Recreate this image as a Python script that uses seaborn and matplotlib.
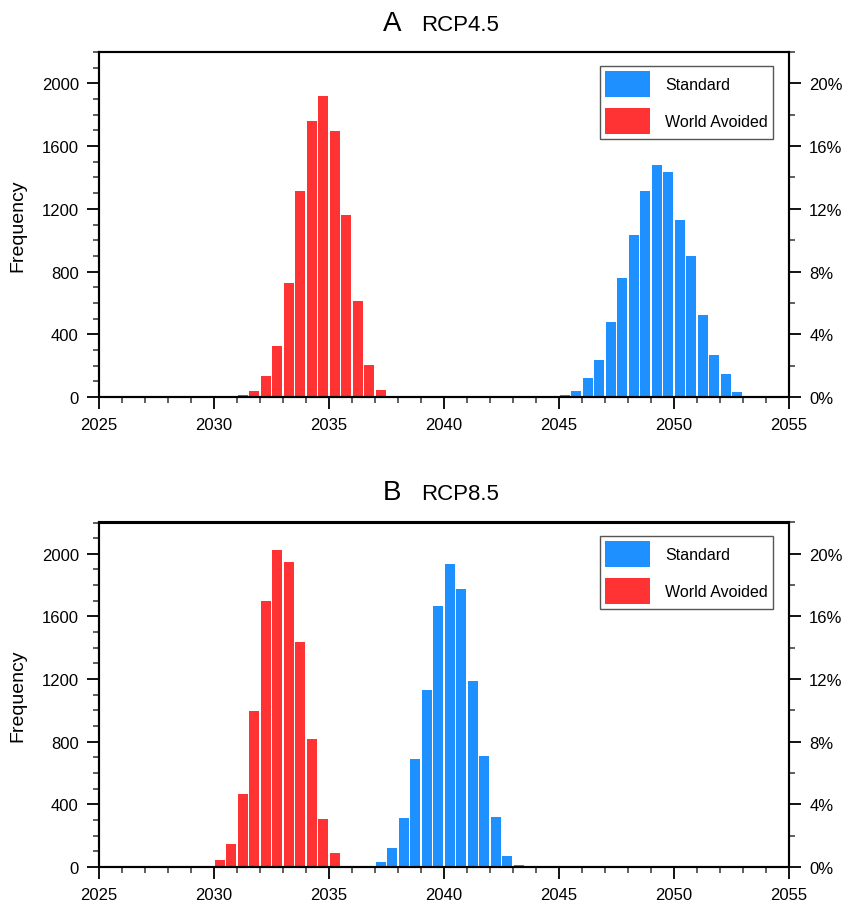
import numpy as np
import pandas as pd
import matplotlib
matplotlib.use("Agg")
import matplotlib.pyplot as plt
import matplotlib.patches as mpatches
from matplotlib.ticker import MultipleLocator, FuncFormatter
import seaborn as sns

# ---------------- data ----------------
bin_width = 0.5
x_range = (2025, 2055)

a_standard_start = 2045.0
a_standard = [15, 40, 119, 239, 477, 756, 1031, 1312, 1478, 1433, 1127, 897, 520, 270, 149, 34, 4]
a_avoided_start = 2031.0
a_avoided = [10, 36, 132, 324, 726, 1312, 1759, 1921, 1695, 1158, 611, 206, 47]

b_standard_start = 2037.0
b_standard = [32, 121, 313, 690, 1131, 1668, 1936, 1776, 1188, 709, 319, 70, 13]
b_avoided_start = 2030.0
b_avoided = [45, 147, 466, 997, 1700, 2026, 1949, 1438, 818, 307, 89]

total_runs = 10000
series_labels = ["Standard", "World Avoided"]
panel_letters = ["A", "B"]
panel_names = ["RCP4.5", "RCP8.5"]

blue = "#1E90FF"
red = "#FF3333"

# ---------------- style ----------------
sns.set_theme(style="ticks")
plt.rcParams["font.family"] = ["Liberation Sans", "DejaVu Sans"]
plt.rcParams["text.color"] = "black"
plt.rcParams["axes.labelcolor"] = "black"
plt.rcParams["xtick.color"] = "black"
plt.rcParams["ytick.color"] = "black"
plt.rcParams["xtick.labelcolor"] = "black"
plt.rcParams["ytick.labelcolor"] = "black"

fig = plt.figure(figsize=(8.44, 9.03), dpi=100)
W, H = 844, 903

def frame(df_start, counts):
    centers = [df_start + bin_width * i + bin_width / 2 for i in range(len(counts))]
    return pd.DataFrame({"year": centers, "count": counts})

panels = [
    dict(top=53, bottom=398, std=(a_standard_start, a_standard), avd=(a_avoided_start, a_avoided),
         title_base=31, leg_top=67),
    dict(top=523.5, bottom=868, std=(b_standard_start, b_standard), avd=(b_avoided_start, b_avoided),
         title_base=500, leg_top=537),
]

left_px, right_px = 99, 789
for k, p in enumerate(panels):
    ax = fig.add_axes([left_px / W, 1 - p["bottom"] / H, (right_px - left_px) / W,
                       (p["bottom"] - p["top"]) / H])
    for (start, counts), col in [(p["avd"], red), (p["std"], blue)]:
        df = frame(start, counts)
        sns.histplot(data=df, x="year", weights="count", binwidth=bin_width,
                     binrange=x_range, color=col,
                     alpha=1, shrink=0.87, linewidth=0, ax=ax)
    ax.set_xlim(*x_range)
    ax.set_ylim(0, 2200)
    ax.set_xlabel("")
    ax.set_ylabel("Frequency", fontsize=14, labelpad=11)
    ax.xaxis.set_major_locator(MultipleLocator(5))
    ax.xaxis.set_minor_locator(MultipleLocator(1))
    ax.yaxis.set_major_locator(MultipleLocator(400))
    ax.yaxis.set_minor_locator(MultipleLocator(100))
    ax.tick_params(axis="both", which="major", direction="out", length=8.5, width=1.3,
                   labelsize=12, color="black", labelcolor="black", pad=6)
    ax.tick_params(axis="both", which="minor", direction="out", length=4.5, width=1.1,
                   color="#333333")
    ax.tick_params(axis="x", which="both", top=False)
    ax.tick_params(axis="y", which="both", right=False)
    for s in ax.spines.values():
        s.set_visible(True)
        s.set_linewidth(1.5)
        s.set_color("black")

    ax2 = ax.twinx()
    ax2.set_ylim(0, 2200 / total_runs * 100)
    ax2.yaxis.set_major_locator(MultipleLocator(4))
    ax2.yaxis.set_minor_locator(MultipleLocator(2))
    ax2.yaxis.set_major_formatter(FuncFormatter(lambda v, _: f"{v:.0f}%"))
    ax2.tick_params(axis="y", which="major", direction="out", length=8.5, width=1.3,
                    labelsize=12, labelcolor="black", pad=6)
    ax2.tick_params(axis="y", which="minor", direction="out", length=4, width=1.1,
                    color="#333333")
    for s in ax2.spines.values():
        s.set_linewidth(1.5)
        s.set_color("black")

    handles = [mpatches.Patch(facecolor=blue, edgecolor="none"),
               mpatches.Patch(facecolor=red, edgecolor="none")]
    leg = ax2.legend(handles, series_labels, loc="upper right",
                     bbox_to_anchor=((773 - left_px) / (right_px - left_px),
                                     (p["bottom"] - p["leg_top"]) / (p["bottom"] - p["top"])),
                     borderaxespad=0, fontsize=11.5, handlelength=2.85, handleheight=2.1,
                     labelspacing=0.75, handletextpad=0.95, borderpad=0.3,
                     fancybox=False, framealpha=1, edgecolor="#555555")
    leg.get_frame().set_linewidth(1.0)
    for t in leg.get_texts():
        t.set_color("black")

    yb = 1 - p["title_base"] / H
    fig.text(383 / W, yb, panel_letters[k], fontsize=20, ha="left", va="baseline", color="black")
    fig.text(421 / W, yb, panel_names[k], fontsize=16, ha="left", va="baseline", color="black")

fig.savefig("out.png", dpi=100)
